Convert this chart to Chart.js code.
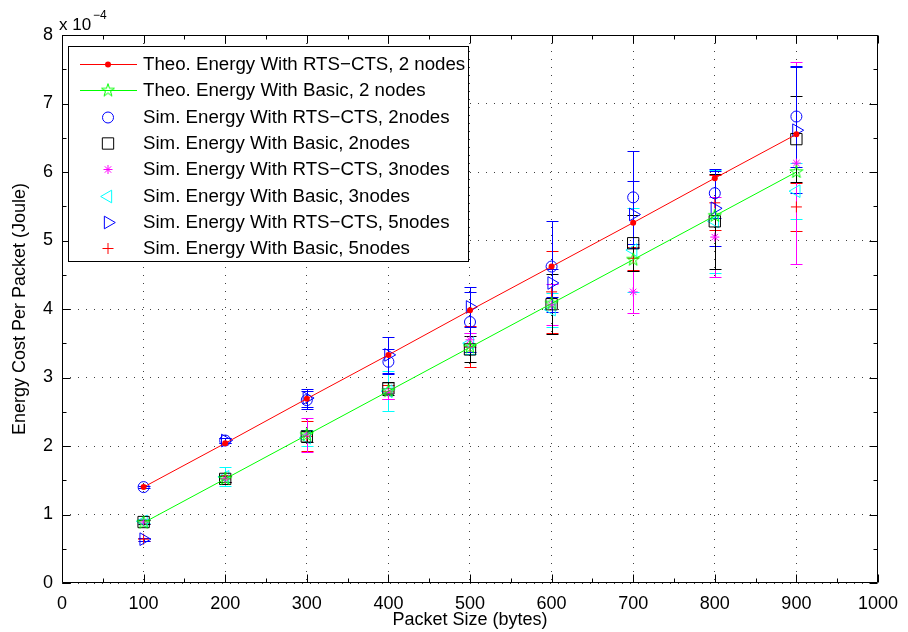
<!DOCTYPE html>
<html><head><meta charset="utf-8">
<script src="https://cdn.jsdelivr.net/npm/chart.js@4/dist/chart.umd.min.js"></script>
<style>html,body{margin:0;padding:0;background:#fff;}#wrap{width:908px;height:632px;position:relative;}</style>
</head><body><div id="wrap"><canvas id="c" width="908" height="632"></canvas></div>
<script>
// ---- data (values in units of 1e-4 Joule) ----
const packetSizes = [100, 200, 300, 400, 500, 600, 700, 800, 900];
const theoRts2   = [1.40, 2.04, 2.69, 3.33, 3.98, 4.62, 5.26, 5.91, 6.55];
const theoBasic2 = [0.88, 1.52, 2.16, 2.80, 3.44, 4.08, 4.72, 5.36, 6.00];
const simRts2      = [1.40, 2.08, 2.67, 3.23, 3.81, 4.62, 5.63, 5.69, 6.81];
const simRts2Err   = [0.02, 0.03, 0.13, 0.18, 0.44, 0.67, 0.68, 0.36, 0.74];
const simBasic2    = [0.89, 1.52, 2.14, 2.84, 3.41, 4.07, 4.96, 5.28, 6.48];
const simBasic2Err = [0.03, 0.04, 0.08, 0.10, 0.19, 0.44, 0.41, 0.69, 0.63];
const simRts3      = [0.89, 1.52, 2.16, 2.77, 3.55, 4.06, 4.25, 5.05, 6.13];
const simRts3Err   = [0.03, 0.04, 0.25, 0.08, 0.10, 0.30, 0.31, 0.59, 1.47];
const simBasic3    = [0.90, 1.55, 2.12, 2.80, 3.50, 3.99, 4.86, 5.28, 5.72];
const simBasic3Err = [0.03, 0.14, 0.12, 0.29, 0.15, 0.25, 0.61, 0.75, 0.41];
const simRts5      = [0.64, 2.08, 2.70, 3.33, 4.03, 4.38, 5.38, 5.47, 6.61];
const simRts5Err   = [0.02, 0.03, 0.13, 0.26, 0.29, 0.20, 0.49, 0.55, 0.92];
const simBasic5    = [0.64, 1.52, 2.14, 2.79, 3.45, 4.25, 4.74, 5.55, 5.49];
const simBasic5Err = [0.02, 0.05, 0.22, 0.10, 0.30, 0.60, 0.17, 0.40, 0.35];
const seriesLabels = [
  'Theo. Energy With RTS\u2212CTS, 2 nodes',
  'Theo. Energy With Basic, 2 nodes',
  'Sim. Energy With RTS\u2212CTS, 2nodes',
  'Sim. Energy With Basic, 2nodes',
  'Sim. Energy With RTS\u2212CTS, 3nodes',
  'Sim. Energy With Basic, 3nodes',
  'Sim. Energy With RTS\u2212CTS, 5nodes',
  'Sim. Energy With Basic, 5nodes'
];
const xTickValues = [0,100,200,300,400,500,600,700,800,900,1000];
const yTickValues = [0,1,2,3,4,5,6,7,8];

const FONT = "'Liberation Sans', Arial, Helvetica, sans-serif";

// pentagram marker
function makePentagram(color){
  const c = document.createElement('canvas'); c.width = 16; c.height = 16;
  const g = c.getContext('2d'); g.strokeStyle = color; g.lineWidth = 1;
  const R = 6.8, r = R*0.382; g.beginPath();
  for(let k=0;k<10;k++){const a=-Math.PI/2+k*Math.PI/5;const rr=k%2?r:R;
    const px=8+rr*Math.cos(a), py=8+rr*Math.sin(a); k?g.lineTo(px,py):g.moveTo(px,py);}
  g.closePath(); g.stroke(); return c;
}
const pent = makePentagram('#00ff00');

function pts(arr){ return packetSizes.map((x,i)=>({x:x,y:arr[i]})); }

function simDs(label, vals, errs, color, style, r, rot){
  return {label, data: pts(vals), errorBars: errs, showLine:false, borderColor: color,
    backgroundColor:'rgba(0,0,0,0)', pointStyle: style, pointRadius: r, pointBorderWidth:1,
    pointRotation: rot||0, pointBackgroundColor:'rgba(0,0,0,0)', pointBorderColor: color, mk: style, mr: r, mrot: rot||0};
}

const datasets = [
  {label: seriesLabels[0], data: pts(theoRts2), borderColor:'#ff0000', borderWidth:1, tension:0,
   pointStyle:'circle', pointRadius:3, pointBackgroundColor:'#ff0000', pointBorderColor:'#ff0000', pointBorderWidth:0, mk:'dot', line:true},
  {label: seriesLabels[1], data: pts(theoBasic2), borderColor:'#00ff00', borderWidth:1, tension:0,
   pointStyle: pent, pointRadius:8, mk:'pent', line:true},
  simDs(seriesLabels[2], simRts2, simRts2Err, '#0000ff', 'circle', 5.5),
  simDs(seriesLabels[3], simBasic2, simBasic2Err, '#000000', 'rect', 8),
  simDs(seriesLabels[4], simRts3, simRts3Err, '#ff00ff', 'star', 4.5),
  simDs(seriesLabels[5], simBasic3, simBasic3Err, '#00ffff', 'triangle', 7.3, -90),
  simDs(seriesLabels[6], simRts5, simRts5Err, '#0000ff', 'triangle', 7.3, 90),
  simDs(seriesLabels[7], simBasic5, simBasic5Err, '#ff0000', 'cross', 5.5)
];

function drawMarker(ctx, ds, x, y){
  ctx.save(); ctx.strokeStyle = ds.borderColor; ctx.lineWidth = 1;
  const r = ds.mr;
  ctx.beginPath();
  switch(ds.mk){
    case 'dot': ctx.fillStyle = ds.borderColor; ctx.arc(x,y,3,0,Math.PI*2); ctx.fill(); break;
    case 'pent': ctx.drawImage(pent, x-8, y-8, 16, 16); break;
    case 'circle': ctx.arc(x,y,r,0,Math.PI*2); ctx.stroke(); break;
    case 'rect': {const s=Math.SQRT1_2*r; ctx.rect(x-s,y-s,2*s,2*s); ctx.stroke(); break;}
    case 'star': for(let k=0;k<4;k++){const a=k*Math.PI/4; ctx.moveTo(x-r*Math.cos(a),y-r*Math.sin(a)); ctx.lineTo(x+r*Math.cos(a),y+r*Math.sin(a));} ctx.stroke(); break;
    case 'cross': ctx.moveTo(x-r,y); ctx.lineTo(x+r,y); ctx.moveTo(x,y-r); ctx.lineTo(x,y+r); ctx.stroke(); break;
    case 'triangle': {const base=ds.mrot*Math.PI/180; for(let k=0;k<3;k++){const a=base+k*2*Math.PI/3; const px=x+Math.sin(a)*r, py=y-Math.cos(a)*r; k?ctx.lineTo(px,py):ctx.moveTo(px,py);} ctx.closePath(); ctx.stroke(); break;}
  }
  ctx.restore();
}

const errPlugin = {
  id:'errbars',
  beforeDatasetsDraw(chart){
    const {ctx, scales:{x, y}} = chart;
    for(let i=chart.data.datasets.length-1;i>=0;i--){
      const ds = chart.data.datasets[i];
      if(!ds.errorBars) continue;
      ctx.save(); ctx.strokeStyle = ds.borderColor; ctx.lineWidth = 1;
      ds.data.forEach((p,j)=>{
        const e = ds.errorBars[j];
        const px = Math.round(x.getPixelForValue(p.x)) + 0.5;
        const y1 = Math.round(y.getPixelForValue(p.y + e)) + 0.5;
        const y2 = Math.round(y.getPixelForValue(p.y - e)) + 0.5;
        ctx.beginPath();
        ctx.moveTo(px, y1); ctx.lineTo(px, y2);
        ctx.moveTo(px-6, y1); ctx.lineTo(px+6, y1);
        ctx.moveTo(px-6, y2); ctx.lineTo(px+6, y2);
        ctx.stroke();
      });
      ctx.restore();
    }
  }
};

const framePlugin = {
  id:'frame',
  afterDraw(chart){
    const {ctx, chartArea:a, scales:{x, y}} = chart;
    ctx.save();
    ctx.strokeStyle = '#000'; ctx.lineWidth = 1;
    const L = Math.round(a.left)+0.5, R = Math.round(a.right)-0.5, T = Math.round(a.top)+0.5, B = Math.round(a.bottom)-0.5;
    ctx.beginPath(); ctx.rect(L, T, R-L, B-T); ctx.stroke();
    ctx.beginPath();
    for(let v=0; v<=1000; v+=50){
      const px = Math.round(x.getPixelForValue(v))+0.5; const len = (v%100===0)?8:4;
      ctx.moveTo(px, B); ctx.lineTo(px, B-len); ctx.moveTo(px, T); ctx.lineTo(px, T+len);
    }
    for(let v=0; v<=8; v+=0.5){
      const py = Math.round(y.getPixelForValue(v))+0.5; const len = (v%1===0)?8:4;
      ctx.moveTo(L, py); ctx.lineTo(L+len, py); ctx.moveTo(R, py); ctx.lineTo(R-len, py);
    }
    ctx.stroke();
    // exponent label
    ctx.fillStyle = '#000'; ctx.textBaseline = 'alphabetic'; ctx.textAlign = 'left';
    ctx.font = '17px ' + FONT; ctx.fillText('x 10', 59, 30);
    ctx.font = '12px ' + FONT; ctx.fillText('\u22124', 93, 19);
    // legend
    const bx=68.5, by=46.5, bw=400, bh=215;
    ctx.fillStyle='#fff'; ctx.fillRect(bx,by,bw,bh);
    ctx.strokeStyle='#000'; ctx.strokeRect(bx,by,bw,bh);
    ctx.font = '18.7px ' + FONT; ctx.textBaseline='middle';
    chart.data.datasets.forEach((ds,i)=>{
      const ry = 64 + i*26.3;
      if(ds.line){ ctx.strokeStyle = ds.borderColor; ctx.beginPath(); ctx.moveTo(80, Math.round(ry)+0.5); ctx.lineTo(137, Math.round(ry)+0.5); ctx.stroke(); }
      drawMarker(ctx, ds, 108, Math.round(ry)+0.5);
      ctx.fillStyle='#000'; ctx.fillText(ds.label, 143, ry+1);
    });
    ctx.restore();
  }
};

new Chart(document.getElementById('c'), {
  type:'line',
  data:{datasets},
  options:{
    responsive:false, animation:false,
    layout:{padding:{top:35, right:28, left:0, bottom:0}},
    plugins:{legend:{display:false}, tooltip:{enabled:false}},
    scales:{
      x:{type:'linear', min:0, max:1000,
        afterFit(s){ s.height = 49; },
        afterBuildTicks(s){ s.ticks = xTickValues.map(v=>({value:v})); },
        grid:{color:'rgba(0,0,0,0.75)', lineWidth:1, drawTicks:false},
        border:{display:false, dash:[1,7]},
        ticks:{padding:10, color:'#000', font:{family:FONT, size:18}, maxRotation:0, callback:(v)=>String(v)},
        title:{display:true, text:'Packet Size (bytes)', color:'#000', font:{family:FONT, size:18}, padding:{bottom:1, top:0}}
      },
      y:{type:'linear', min:0, max:8,
        afterFit(s){ s.width = 62; },
        afterBuildTicks(s){ s.ticks = yTickValues.map(v=>({value:v})); },
        grid:{color:'rgba(0,0,0,0.75)', lineWidth:1, drawTicks:false},
        border:{display:false, dash:[1,7]},
        ticks:{padding:9, color:'#000', font:{family:FONT, size:18}, callback:(v)=>String(v)},
        title:{display:true, text:'Energy Cost Per Packet (Joule)', color:'#000', font:{family:FONT, size:18}, padding:{top:9, bottom:0}}
      }
    }
  },
  plugins:[errPlugin, framePlugin]
});
</script></body></html>
